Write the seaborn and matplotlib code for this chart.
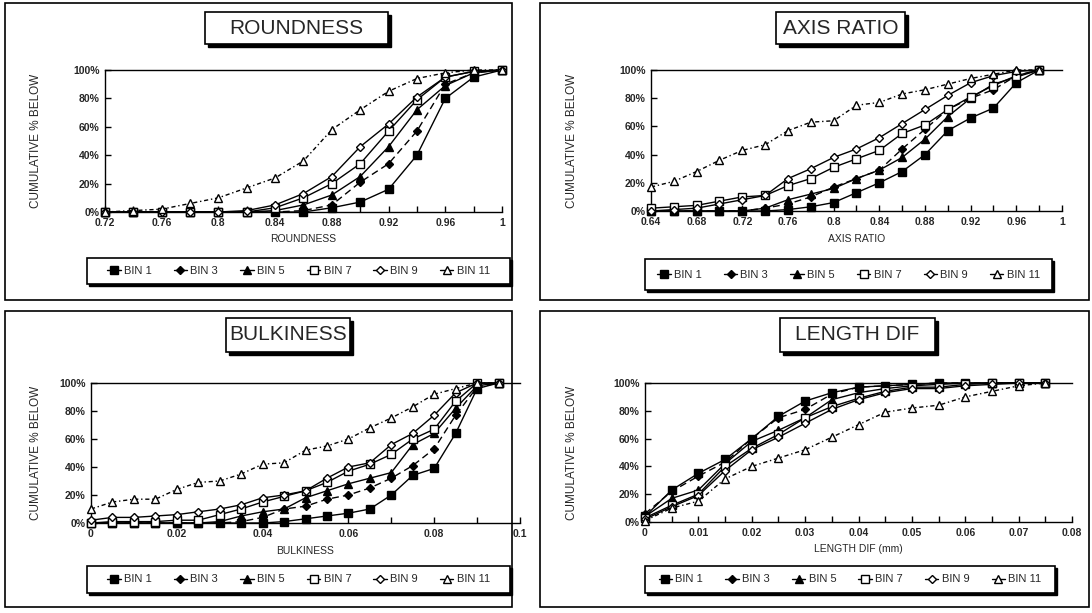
import matplotlib
matplotlib.use("Agg")
import matplotlib.pyplot as plt
import seaborn as sns
import pandas as pd
from matplotlib.lines import Line2D
from matplotlib.patches import Rectangle
from matplotlib.ticker import FuncFormatter, FixedLocator

# ---------------- data ----------------
bins = ["BIN 1", "BIN 3", "BIN 5", "BIN 7", "BIN 9", "BIN 11"]

round_x = [0.72, 0.74, 0.76, 0.78, 0.80, 0.82, 0.84, 0.86, 0.88, 0.90, 0.92, 0.94, 0.96, 0.98, 1.00]
round_bin1 = [0, 0, 0, 0, 0, 0, 0, 0, 3, 7, 16, 40, 80, 95, 100]
round_bin3 = [0, 0, 0, 0, 0, 0, 0, 1, 5, 21, 34, 57, 90, 98, 100]
round_bin5 = [0, 0, 0, 0, 0, 0, 1, 5, 12, 25, 46, 72, 89, 98, 100]
round_bin7 = [0, 0, 0, 0, 0, 0, 3, 10, 20, 34, 57, 79, 95, 99, 100]
round_bin9 = [0, 0, 0, 0, 0, 1, 5, 13, 25, 46, 62, 81, 95, 99, 100]
round_bin11 = [0, 1, 2, 6, 10, 17, 24, 36, 58, 72, 85, 94, 98, 100, 100]

axis_x = [0.64, 0.66, 0.68, 0.70, 0.72, 0.74, 0.76, 0.78, 0.80, 0.82, 0.84, 0.86, 0.88, 0.90, 0.92, 0.94, 0.96, 0.98]
axis_bin1 = [0, 0, 0, 0, 0, 0, 1, 3, 6, 13, 20, 28, 40, 57, 66, 73, 91, 100]
axis_bin3 = [0, 0, 0, 0, 0, 2, 5, 10, 17, 23, 29, 44, 58, 72, 80, 86, 96, 100]
axis_bin5 = [0, 0, 0, 0, 0, 2, 8, 12, 16, 23, 29, 38, 51, 67, 80, 90, 95, 100]
axis_bin7 = [2, 3, 4, 7, 10, 11, 18, 23, 31, 37, 43, 55, 61, 72, 81, 89, 96, 100]
axis_bin9 = [0, 1, 2, 5, 8, 11, 23, 30, 38, 44, 52, 62, 72, 82, 91, 96, 99, 100]
axis_bin11 = [17, 21, 28, 36, 43, 47, 57, 63, 64, 75, 77, 83, 86, 90, 94, 97, 100, 100]

bulk_x = [0.000, 0.005, 0.010, 0.015, 0.020, 0.025, 0.030, 0.035, 0.040, 0.045,
          0.050, 0.055, 0.060, 0.065, 0.070, 0.075, 0.080, 0.085, 0.090, 0.095]
bulk_bin1 = [0, 0, 0, 0, 0, 0, 0, 0, 0, 1, 3, 5, 7, 10, 20, 34, 39, 64, 96, 100]
bulk_bin3 = [0, 0, 0, 0, 0, 0, 0, 1, 4, 10, 12, 17, 20, 25, 32, 41, 53, 77, 97, 100]
bulk_bin5 = [0, 0, 0, 0, 0, 0, 1, 5, 8, 10, 18, 23, 28, 32, 36, 56, 64, 82, 98, 100]
bulk_bin7 = [0, 1, 1, 1, 2, 2, 6, 10, 15, 19, 23, 29, 37, 42, 49, 60, 67, 87, 100, 100]
bulk_bin9 = [2, 4, 4, 5, 6, 8, 10, 13, 18, 20, 23, 32, 40, 43, 56, 64, 77, 93, 100, 100]
bulk_bin11 = [10, 15, 17, 17, 24, 29, 30, 35, 42, 43, 52, 55, 60, 68, 75, 83, 92, 96, 100, 100]

len_x = [0.000, 0.005, 0.010, 0.015, 0.020, 0.025, 0.030, 0.035, 0.040, 0.045,
         0.050, 0.055, 0.060, 0.065, 0.070, 0.075]
len_bin1 = [4, 23, 35, 45, 60, 76, 87, 93, 97, 98, 99, 100, 100, 100, 100, 100]
len_bin3 = [6, 22, 33, 43, 60, 75, 81, 92, 97, 98, 99, 100, 100, 100, 100, 100]
len_bin5 = [4, 17, 23, 42, 58, 66, 75, 88, 93, 96, 98, 99, 100, 100, 100, 100]
len_bin7 = [3, 12, 20, 40, 53, 63, 75, 83, 89, 94, 97, 97, 99, 100, 100, 100]
len_bin9 = [2, 11, 19, 37, 52, 61, 71, 81, 88, 93, 96, 96, 98, 99, 100, 100]
len_bin11 = [1, 10, 15, 31, 40, 46, 52, 61, 70, 79, 82, 84, 90, 94, 98, 100]

panel_titles = ["ROUNDNESS", "AXIS RATIO", "BULKINESS", "LENGTH DIF"]
x_labels = ["ROUNDNESS", "AXIS RATIO", "BULKINESS", "LENGTH DIF (mm)"]
y_label = "CUMULATIVE % BELOW"

round_ticks = [0.72, 0.76, 0.80, 0.84, 0.88, 0.92, 0.96, 1.00]
round_ticklabels = ["0.72", "0.76", "0.8", "0.84", "0.88", "0.92", "0.96", "1"]
axis_ticks = [0.64, 0.68, 0.72, 0.76, 0.80, 0.84, 0.88, 0.92, 0.96, 1.00]
axis_ticklabels = ["0.64", "0.68", "0.72", "0.76", "0.8", "0.84", "0.88", "0.92", "0.96", "1"]
bulk_ticks = [0, 0.02, 0.04, 0.06, 0.08, 0.10]
bulk_ticklabels = ["0", "0.02", "0.04", "0.06", "0.08", "0.1"]
len_ticks = [0, 0.01, 0.02, 0.03, 0.04, 0.05, 0.06, 0.07, 0.08]
len_ticklabels = ["0", "0.01", "0.02", "0.03", "0.04", "0.05", "0.06", "0.07", "0.08"]
y_ticks = [0, 20, 40, 60, 80, 100]

# ---------------- styling ----------------
sns.set_style("white")
plt.rcParams["font.family"] = ["Liberation Sans", "DejaVu Sans"]

W, H = 1092, 613
fig = plt.figure(figsize=(W / 100, H / 100), dpi=100)


def fbox(x0, y0, x1, y1):
    return [x0 / W, 1 - y1 / H, (x1 - x0) / W, (y1 - y0) / H]


styles = {
    "BIN 1": dict(marker="s", ms=6.0, mfc="black", ls="-"),
    "BIN 3": dict(marker="D", ms=3.8, mfc="black", ls=(0, (5, 3))),
    "BIN 5": dict(marker="^", ms=5.5, mfc="black", ls="-"),
    "BIN 7": dict(marker="s", ms=6.0, mfc="white", ls="-"),
    "BIN 9": dict(marker="D", ms=4.0, mfc="white", ls="-"),
    "BIN 11": dict(marker="^", ms=5.5, mfc="white", ls=(0, (3, 2, 1, 2))),
}

panels = [
    dict(x=round_x, ys=[round_bin1, round_bin3, round_bin5, round_bin7, round_bin9, round_bin11],
         xlim=(0.72, 1.0), ticks=round_ticks, labels=round_ticklabels, minor=0.02,
         axbox=(105, 70, 502, 212), frame=(5, 3, 512, 300), tbox=(205, 12, 388, 44),
         lbox=(87, 258, 510, 284), ylab_x=36),
    dict(x=axis_x, ys=[axis_bin1, axis_bin3, axis_bin5, axis_bin7, axis_bin9, axis_bin11],
         xlim=(0.64, 1.0), ticks=axis_ticks, labels=axis_ticklabels, minor=0.02,
         axbox=(651, 70, 1062, 211), frame=(540, 3, 1089, 300), tbox=(776, 12, 905, 44),
         lbox=(645, 259, 1052, 290), ylab_x=572),
    dict(x=bulk_x, ys=[bulk_bin1, bulk_bin3, bulk_bin5, bulk_bin7, bulk_bin9, bulk_bin11],
         xlim=(0.0, 0.1), ticks=bulk_ticks, labels=bulk_ticklabels, minor=0.01,
         axbox=(91, 383, 520, 523), frame=(5, 311, 512, 607), tbox=(226, 318, 350, 352),
         lbox=(87, 566, 510, 593), ylab_x=36),
    dict(x=len_x, ys=[len_bin1, len_bin3, len_bin5, len_bin7, len_bin9, len_bin11],
         xlim=(0.0, 0.08), ticks=len_ticks, labels=len_ticklabels, minor=0.005,
         axbox=(645, 383, 1072, 522), frame=(540, 311, 1089, 607), tbox=(780, 318, 935, 352),
         lbox=(645, 566, 1055, 593), ylab_x=572),
]

for i, p in enumerate(panels):
    # outer panel frame
    fx0, fy0, fx1, fy1 = p["frame"]
    fig.patches.append(Rectangle((fx0 / W, 1 - fy1 / H), (fx1 - fx0) / W, (fy1 - fy0) / H,
                                 transform=fig.transFigure, fill=False, ec="black", lw=1.2))

    ax = fig.add_axes(fbox(*p["axbox"]))
    rows = []
    for b, yv in zip(bins, p["ys"]):
        for xv, v in zip(p["x"], yv):
            rows.append({"x": xv, "pct": v, "bin": b})
    df = pd.DataFrame(rows)
    for b in bins:
        st = styles[b]
        sub = df[df["bin"] == b]
        sns.lineplot(data=sub, x="x", y="pct", ax=ax, color="black", lw=1.0,
                     linestyle=st["ls"], marker=st["marker"], markersize=st["ms"],
                     markerfacecolor=st["mfc"], markeredgecolor="black", markeredgewidth=1.0,
                     legend=False, clip_on=False, zorder=3)

    ax.set_xlim(*p["xlim"])
    ax.set_ylim(0, 100)
    ax.set_xticks(p["ticks"])
    ax.set_xticklabels(p["labels"])
    mn = []
    t = p["xlim"][0]
    while t <= p["xlim"][1] + 1e-9:
        mn.append(round(t, 4))
        t += p["minor"]
    ax.xaxis.set_minor_locator(FixedLocator(mn))
    ax.set_yticks(y_ticks)
    ax.yaxis.set_major_formatter(FuncFormatter(lambda v, pos: f"{int(v)}%"))
    ax.tick_params(axis="both", which="both", direction="in", length=4, width=1.0,
                   labelsize=7.5, pad=4, color="black", bottom=True, left=True)
    for lab in ax.get_xticklabels() + ax.get_yticklabels():
        lab.set_fontweight("bold")
    for s in ["left", "bottom", "top"]:
        ax.spines[s].set_visible(True)
        ax.spines[s].set_color("black")
        ax.spines[s].set_linewidth(1.0)
    ax.spines["right"].set_visible(False)
    ax.set_xlabel(x_labels[i], fontsize=7.5, labelpad=5)
    ax.set_ylabel("")
    ax.grid(False)

    # y label
    ax_y_center = (p["axbox"][1] + p["axbox"][3]) / 2
    fig.text(p["ylab_x"] / W, 1 - ax_y_center / H, y_label, rotation=90,
             ha="center", va="center", fontsize=8.5,
             family=["Liberation Sans Narrow", "Liberation Sans", "DejaVu Sans"])

    # title box with shadow
    tx0, ty0, tx1, ty1 = p["tbox"]
    fig.patches.append(Rectangle(((tx0 + 3) / W, 1 - (ty1 + 3) / H), (tx1 - tx0) / W, (ty1 - ty0) / H,
                                 transform=fig.transFigure, fc="black", ec="black", lw=1))
    fig.patches.append(Rectangle((tx0 / W, 1 - ty1 / H), (tx1 - tx0) / W, (ty1 - ty0) / H,
                                 transform=fig.transFigure, fc="white", ec="black", lw=1.2))
    fig.text((tx0 + tx1) / 2 / W, 1 - (ty0 + ty1) / 2 / H, panel_titles[i],
             ha="center", va="center", fontsize=15)

    # legend box with shadow
    lx0, ly0, lx1, ly1 = p["lbox"]
    fig.patches.append(Rectangle(((lx0 + 2) / W, 1 - (ly1 + 2) / H), (lx1 - lx0) / W, (ly1 - ly0) / H,
                                 transform=fig.transFigure, fc="black", ec="black", lw=1))
    fig.patches.append(Rectangle((lx0 / W, 1 - ly1 / H), (lx1 - lx0) / W, (ly1 - ly0) / H,
                                 transform=fig.transFigure, fc="white", ec="black", lw=1.2))
    handles = [Line2D([0], [0], color="black", lw=1.0, linestyle="-",
                      marker=styles[b]["marker"], markersize=styles[b]["ms"],
                      markerfacecolor=styles[b]["mfc"], markeredgecolor="black")
               for b in bins]
    fig.legend(handles, bins, loc="center",
               bbox_to_anchor=((lx0 + lx1) / 2 / W, 1 - (ly0 + ly1) / 2 / H),
               ncol=6, frameon=False, fontsize=8, handlelength=1.2, handletextpad=0.3,
               columnspacing=2.0)

fig.savefig("out.png", dpi=100, facecolor="white")
